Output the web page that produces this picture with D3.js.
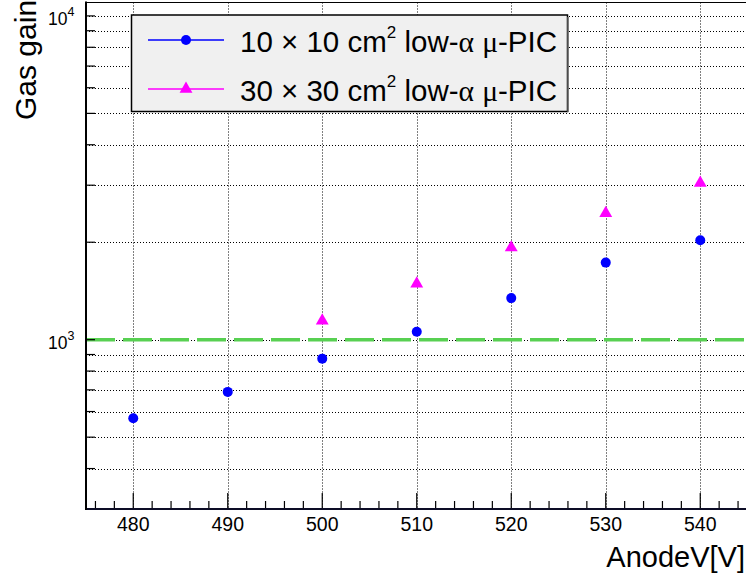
<!DOCTYPE html>
<html>
<head>
<meta charset="utf-8">
<script src="https://cdn.jsdelivr.net/npm/d3@7"></script>
<style>
  html, body { margin: 0; padding: 0; background: #fff; }
  svg { display: block; font-family: "Liberation Sans", Arial, sans-serif; }
</style>
</head>
<body>
<svg id="chart" width="746" height="577"></svg>
<script>
// ---- data ----
const voltages10 = [480, 490, 500, 510, 520, 530, 540];
const gain10 = [572, 690, 874, 1058, 1344, 1730, 2029];
const voltages30 = [500, 510, 520, 530, 540];
const gain30 = [1144, 1488, 1925, 2457, 3047];
const xMajorTicks = [480, 490, 500, 510, 520, 530, 540];
const xMinorTicks = [476, 478, 482, 484, 486, 488, 492, 494, 496, 498, 502, 504, 506, 508, 512, 514, 516, 518, 522, 524, 526, 528, 532, 534, 536, 538, 542, 544];
const yMajorTicks = [1000, 10000];
const yMajorExp = ["3", "4"];
const yMinorTicks = [400, 500, 600, 700, 800, 900, 2000, 3000, 4000, 5000, 6000, 7000, 8000, 9000];
const referenceGain = [1000];
const legendLabels = ["10 \u00d7 10 cm", "30 \u00d7 30 cm"];
const xTitle = "AnodeV[V]";
const yTitle = "Gas gain";

// ---- layout ----
const svg = d3.select("#chart");
const L = 86, R = 747.5, T = 2.5, B = 509;
const x = d3.scaleLinear().domain([475, 545]).range([L, R]);
const y = d3.scaleLog().domain([300, 11000]).range([B, T]);

// grid
const grid = svg.append("g").attr("stroke", "#000").attr("stroke-width", 1).attr("stroke-dasharray", "1,2");
grid.selectAll("line.v").data(xMajorTicks).join("line")
  .attr("x1", d => Math.round(x(d)) + 0.5).attr("x2", d => Math.round(x(d)) + 0.5).attr("y1", T).attr("y2", B);
grid.selectAll("line.h").data(yMinorTicks.concat(yMajorTicks)).join("line")
  .attr("x1", L).attr("x2", 746).attr("y1", d => Math.round(y(d)) + 0.5).attr("y2", d => Math.round(y(d)) + 0.5);

// reference line
svg.append("g").selectAll("line").data(referenceGain).join("line")
  .attr("x1", L).attr("x2", 746).attr("y1", d => y(d)).attr("y2", d => y(d))
  .attr("stroke", "#58d052").attr("stroke-width", 3.5).attr("stroke-dasharray", "29,8");

// frame
svg.append("line").attr("x1", L).attr("x2", 746).attr("y1", T).attr("y2", T).attr("stroke", "#000").attr("stroke-width", 1.2);

// x axis
const xAxis = svg.append("g");
xAxis.selectAll("line.maj").data(xMajorTicks).join("line")
  .attr("x1", d => x(d)).attr("x2", d => x(d)).attr("y1", B).attr("y2", B - 16)
  .attr("stroke", "#000").attr("stroke-width", 1.2);
xAxis.selectAll("line.min").data(xMinorTicks).join("line")
  .attr("x1", d => x(d)).attr("x2", d => x(d)).attr("y1", B).attr("y2", B - 8)
  .attr("stroke", "#000").attr("stroke-width", 1.2);
xAxis.selectAll("text").data(xMajorTicks).join("text")
  .attr("x", d => x(d)).attr("y", B + 22).attr("text-anchor", "middle")
  .attr("font-size", 19.5).attr("fill", "#000").text(d => d);
svg.append("line").attr("x1", L - 1).attr("x2", 746).attr("y1", B).attr("y2", B)
  .attr("stroke", "#0d0d26").attr("stroke-width", 2.2);

// y axis
const yAxis = svg.append("g");
yAxis.selectAll("line").data(yMinorTicks.concat(yMajorTicks)).join("line")
  .attr("x1", L).attr("x2", L + 9).attr("y1", d => y(d)).attr("y2", d => y(d))
  .attr("stroke", "#000").attr("stroke-width", 1.2);
const yl = yAxis.selectAll("text").data(yMajorTicks).join("text")
  .attr("x", 48).attr("y", d => y(d) + 9).attr("font-size", 17.5).attr("fill", "#000");
yl.append("tspan").text("10");
yl.append("tspan").attr("font-size", 12.5).attr("dy", -9).text((d, i) => yMajorExp[i]);
svg.append("line").attr("x1", L).attr("x2", L).attr("y1", T - 1).attr("y2", B + 1)
  .attr("stroke", "#000").attr("stroke-width", 2);

// titles
svg.append("text").attr("x", 745).attr("y", 567).attr("text-anchor", "end")
  .attr("font-size", 29).attr("fill", "#000").text(xTitle);
svg.append("text").attr("transform", "translate(35.5,120) rotate(-90)")
  .attr("text-anchor", "start").attr("font-size", 30).attr("fill", "#000").text(yTitle);

// data markers
svg.append("g").selectAll("circle").data(voltages10).join("circle")
  .attr("cx", d => x(d)).attr("cy", (d, i) => y(gain10[i])).attr("r", 5).attr("fill", "#0000ff");
const tri = d3.symbol().type(d3.symbolTriangle).size(72);
svg.append("g").selectAll("path").data(voltages30).join("path")
  .attr("transform", (d, i) => `translate(${x(d)},${y(gain30[i])})`)
  .attr("d", tri).attr("fill", "#ff00ff");

// legend
const lg = svg.append("g");
lg.append("rect").attr("x", 131.5).attr("y", 15).attr("width", 436).attr("height", 96.5)
  .attr("fill", "#f0f0f0").attr("stroke", "#000").attr("stroke-width", 1.5);
lg.append("line").attr("x1", 568).attr("x2", 568).attr("y1", 17).attr("y2", 112).attr("stroke", "#666").attr("stroke-width", 1.5);
const rows = [40, 89];
const colors = ["#0000ff", "#ff00ff"];
rows.forEach((ry, i) => {
  lg.append("line").attr("x1", 148).attr("x2", 224).attr("y1", ry).attr("y2", ry)
    .attr("stroke", colors[i]).attr("stroke-width", 1.5);
  if (i === 0) {
    lg.append("circle").attr("cx", 186).attr("cy", ry).attr("r", 5).attr("fill", colors[i]);
  } else {
    lg.append("path").attr("transform", `translate(186,${ry})`).attr("d", tri).attr("fill", colors[i]);
  }
  const t = lg.append("text").attr("x", 240).attr("y", ry + 12).attr("font-size", 29.5).attr("fill", "#000");
  t.append("tspan").text(legendLabels[i]);
  t.append("tspan").attr("font-size", 17).attr("dy", -14).text("2");
  t.append("tspan").attr("dy", 14).text(" low-");
  t.append("tspan").attr("font-family", "Liberation Serif, serif").text("\u03b1");
  t.append("tspan").text(" ");
  t.append("tspan").attr("font-family", "Liberation Serif, serif").text("\u03bc");
  t.append("tspan").text("-PIC");
});
</script>
</body>
</html>
